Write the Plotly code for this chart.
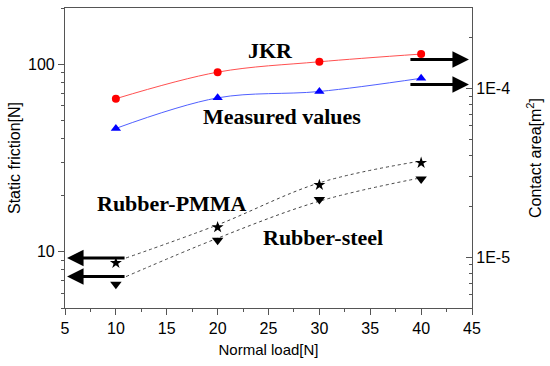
import math
import plotly.graph_objects as go

# ---- data ----
load = [10, 20, 30, 40]
jkr_area = [8.7e-5, 1.25e-4, 1.44e-4, 1.60e-4]          # right axis
measured_area = [5.8e-5, 8.8e-5, 9.6e-5, 1.15e-4]       # right axis
pmma_friction = [8.7, 13.5, 22.7, 29.8]                 # left axis
steel_friction = [6.7, 11.5, 19.0, 24.4]                # left axis

fit_load = [11, 20, 30, 40]
pmma_fit = [9.25, 13.9, 23.3, 30.5]
steel_fit = [7.36, 11.8, 18.6, 24.8]

x_ticks = [5, 10, 15, 20, 25, 30, 35, 40, 45]
left_ticks = [10, 100]
left_tick_text = ["10", "100"]
right_ticks = [1e-5, 1e-4]
right_tick_text = ["1E-5", "1E-4"]

SANS = "Liberation Sans, Arial, sans-serif"
SERIF = "Liberation Serif, Times New Roman, serif"
AX = "#555555"

ML, MR, MT, MB = 65, 78, 8, 58
W, H = 550, 366

fig = go.Figure()

# dotted fitted curves (left axis)
fig.add_trace(go.Scatter(x=fit_load, y=pmma_fit, mode="lines", line=dict(color="#444", width=1, dash="dot", shape="spline"), showlegend=False))
fig.add_trace(go.Scatter(x=fit_load, y=steel_fit, mode="lines", line=dict(color="#444", width=1, dash="dot", shape="spline"), showlegend=False))
fig.add_trace(go.Scatter(x=load, y=pmma_friction, mode="markers", marker=dict(symbol="star", size=9, color="black"), showlegend=False))
fig.add_trace(go.Scatter(x=load, y=steel_friction, mode="markers", marker=dict(symbol="triangle-down", size=10, color="black"), showlegend=False))

# contact area (right axis)
fig.add_trace(go.Scatter(x=load, y=jkr_area, mode="lines+markers", yaxis="y2",
                         line=dict(color="#ff5050", width=1, shape="spline"),
                         marker=dict(symbol="circle", size=8, color="red"), showlegend=False))
fig.add_trace(go.Scatter(x=load, y=measured_area, mode="lines+markers", yaxis="y2",
                         line=dict(color="#5060ff", width=1, shape="spline"),
                         marker=dict(symbol="triangle-up", size=9, color="blue"), showlegend=False))

minor_left = [m * 10 ** k for k in range(0, 3) for m in range(2, 10)]
minor_right = [m * 10 ** k for k in range(-6, -3) for m in range(2, 10)]

fig.update_layout(
    width=W, height=H,
    margin=dict(l=ML, r=MR, t=MT, b=MB),
    paper_bgcolor="white", plot_bgcolor="white",
    font=dict(family=SANS, size=16, color="black"),
    xaxis=dict(range=[5, 45], tickvals=x_ticks, ticks="outside", ticklen=6, tickcolor=AX,
               showline=True, linecolor=AX, linewidth=1.2, mirror=True, showgrid=False, zeroline=False,
               automargin=False,
               minor=dict(dtick=2.5, tick0=5, ticks="outside", ticklen=3, tickcolor=AX, showgrid=False),
               title=dict(text="Normal load[N]", font=dict(size=15), standoff=8)),
    yaxis=dict(type="log", range=[0.69897, 2.30103], tickvals=left_ticks, ticktext=left_tick_text,
               ticks="outside", ticklen=6, tickcolor=AX, showline=True, linecolor=AX, linewidth=1.2,
               showgrid=False, zeroline=False, automargin=False,
               minor=dict(tickvals=minor_left, ticks="outside", ticklen=3, tickcolor=AX, showgrid=False),
               title=dict(text="Static friction[N]", font=dict(size=16), standoff=3)),
    yaxis2=dict(type="log", range=[-5.30103, -3.52288], overlaying="y", side="right",
                tickvals=right_ticks, ticktext=right_tick_text,
                ticks="inside", ticklen=6, tickcolor=AX, showline=True, linecolor=AX, linewidth=1.2,
                showgrid=False, zeroline=False, automargin=False,
                minor=dict(tickvals=minor_right, ticks="inside", ticklen=3, tickcolor=AX, showgrid=False),
                title=dict(text="Contact area[m<sup>2</sup>]", font=dict(size=16), standoff=20)),
)

labels = [("JKR", 270, 50), ("Measured values", 282, 116), ("Rubber-PMMA", 172, 203), ("Rubber-steel", 323, 238)]
pw, ph = W - ML - MR, H - MT - MB
for text, px, py in labels:
    fig.add_annotation(text="<b>%s</b>" % text, x=(px - ML) / pw, y=(H - MB - py) / ph, xref="paper", yref="paper",
                       showarrow=False, font=dict(family=SERIF, size=22, color="black"),
                       xanchor="center", yanchor="middle")

# arrows
for yv in [pmma_fit[0], steel_fit[0]]:
    fig.add_annotation(x=5.2, y=math.log10(yv), ax=11, ay=math.log10(yv),
                       xref="x", yref="y", axref="x", ayref="y", text="", showarrow=True,
                       arrowhead=2, arrowsize=1.1, arrowwidth=3, arrowcolor="black")
for yv in [1.485e-4, 1.056e-4]:
    fig.add_annotation(x=44.7, y=math.log10(yv), ax=38.8, ay=math.log10(yv),
                       xref="x", yref="y2", axref="x", ayref="y2", text="", showarrow=True,
                       arrowhead=2, arrowsize=1.1, arrowwidth=3, arrowcolor="black")

fig.write_html("out.html", config={"displayModeBar": False},
               post_script="document.body.style.margin='0';document.body.style.overflow='hidden';")
